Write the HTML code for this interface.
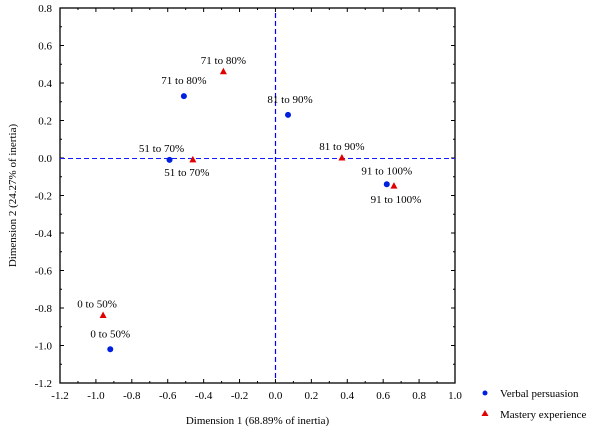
<!DOCTYPE html>
<html><head><meta charset="utf-8"><style>
body{margin:0;background:#fff;}
text{font-family:"Liberation Serif",serif;font-size:11px;fill:#000;}
</style></head><body>
<svg width="600" height="431" id="c">
<rect width="600" height="431" fill="#fff"/>
</svg>
<script>
const categories=["0 to 50%","51 to 70%","71 to 80%","81 to 90%","91 to 100%"];
const verbalX=[-0.92,-0.59,-0.51,0.07,0.62];
const verbalY=[-1.02,-0.01,0.33,0.23,-0.14];
const masteryX=[-0.96,-0.46,-0.29,0.37,0.66];
const masteryY=[-0.84,-0.01,0.46,0.00,-0.15];
const xTicks=["-1.2","-1.0","-0.8","-0.6","-0.4","-0.2","0.0","0.2","0.4","0.6","0.8","1.0"];
const yTicks=["-1.2","-1.0","-0.8","-0.6","-0.4","-0.2","0.0","0.2","0.4","0.6","0.8"];
const L=60,R=455,T=8,B=383;
const sx=v=>L+(v+1.2)/2.2*(R-L), sy=v=>T+(0.8-v)/2.0*(B-T);
const svg=document.getElementById('c');const NS='http://www.w3.org/2000/svg';
function mk(t,a,p){const e=document.createElementNS(NS,t);for(const k in a)e.setAttribute(k,a[k]);(p||svg).appendChild(e);return e;}
let e;
e=mk('rect',{x:L,y:T,width:R-L,height:B-T,fill:'none',stroke:'#000','stroke-width':1.3});


for(let i=0;i<=22;i++){const x=L+i*(R-L)/22,len=i%2?2:4;
 mk('line',{x1:x,y1:B,x2:x,y2:B-len,stroke:'#000'});mk('line',{x1:x,y1:T,x2:x,y2:T+len,stroke:'#000'});}
for(let i=0;i<=20;i++){const y=T+i*(B-T)/20,len=i%2?2:4;
 mk('line',{x1:L,y1:y,x2:L+len,y2:y,stroke:'#000'});mk('line',{x1:R,y1:y,x2:R-len,y2:y,stroke:'#000'});}
xTicks.forEach(t=>{e=mk('text',{x:sx(+t),y:B+16,'text-anchor':'middle'});e.textContent=t;

});
yTicks.forEach(t=>{e=mk('text',{x:L-8,y:sy(+t)+4,'text-anchor':'end'});e.textContent=t;

});
const zy=Math.round(sy(0))+0.5, zx=Math.round(sx(0))+0.5;
e=mk('line',{x1:L,y1:zy,x2:R,y2:zy,stroke:'#1a1aff','stroke-dasharray':'5,3'});


e=mk('line',{x1:zx,y1:T+5,x2:zx,y2:B-5,stroke:'#0000ff','stroke-width':1.2,'stroke-dasharray':'5,3'});


e=mk('text',{x:(L+R)/2,y:424,'text-anchor':'middle'});e.textContent='Dimension 1 (68.89% of inertia)';


e=mk('text',{x:0,y:0,'text-anchor':'middle',transform:`translate(16,${(T+B)/2}) rotate(-90)`});e.textContent='Dimension 2 (24.27% of inertia)';


const vOff=[[0,-16],[-8,-12],[0,-16],[2,-16],[0,-14]];
const mOff=[[-6,-12],[-6,12],[0,-12],[0,-12],[2,13]];
categories.forEach((c,i)=>{
 const x=sx(verbalX[i]),y=sy(verbalY[i]);
 e=mk('circle',{cx:x,cy:y,r:3,fill:'#0020e0'});
 
 
 e=mk('text',{x:x+vOff[i][0],y:y+vOff[i][1]+4,'text-anchor':'middle'});e.textContent=c;
 
 
 const mx=sx(masteryX[i]),my=sy(masteryY[i]);
 e=mk('polygon',{points:`${mx},${my-4} ${mx-3.5},${my+2.5} ${mx+3.5},${my+2.5}`,fill:'#e00000'});
 
 
 e=mk('text',{x:mx+mOff[i][0],y:my+mOff[i][1]+4,'text-anchor':'middle'});e.textContent=c;
 
 
});
e=mk('circle',{cx:485,cy:393,r:2.5,fill:'#0020e0'});


e=mk('text',{x:500,y:397});e.textContent='Verbal persuasion';


e=mk('polygon',{points:'485,410 481.5,416 488.5,416',fill:'#e00000'});


e=mk('text',{x:500,y:418});e.textContent='Mastery experience';


</script>
</body></html>
